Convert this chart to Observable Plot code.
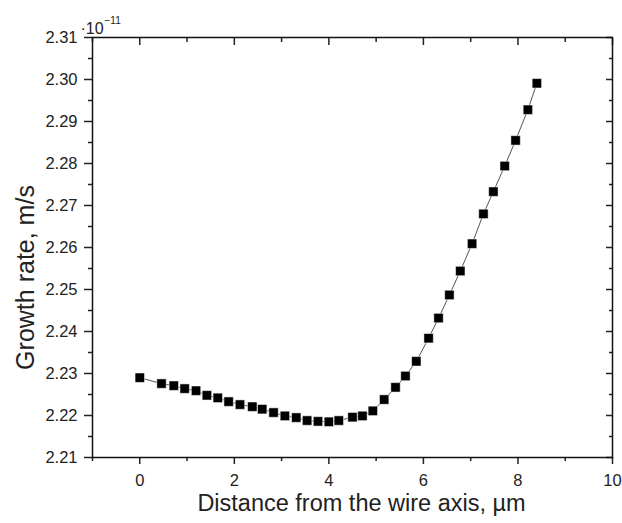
<!DOCTYPE html>
<html>
<head>
<meta charset="utf-8">
<script src="https://cdn.jsdelivr.net/npm/d3@7"></script>
<script src="https://cdn.jsdelivr.net/npm/@observablehq/plot@0.6"></script>
<style>
  html, body { margin: 0; padding: 0; background: #fff; }
  #chart svg { display: block; }
</style>
</head>
<body>
<div id="chart"></div>
<script>
// Distance from the wire axis, µm
const distance = [0, 0.46, 0.72, 0.95, 1.19, 1.42, 1.65, 1.88, 2.12, 2.38,
  2.59, 2.83, 3.07, 3.31, 3.54, 3.77, 4.00, 4.21, 4.50, 4.71,
  4.93, 5.17, 5.41, 5.62, 5.85, 6.11, 6.32, 6.55, 6.78, 7.03,
  7.27, 7.48, 7.72, 7.95, 8.21, 8.40];
// Growth rate, in units of 1e-11 m/s
const growthRate = [2.2290, 2.2276, 2.2271, 2.2264, 2.2259, 2.2248, 2.2242, 2.2233, 2.2226, 2.2221,
  2.2215, 2.2207, 2.2199, 2.2195, 2.2188, 2.2186, 2.2185, 2.2188, 2.2196, 2.2199,
  2.2211, 2.2238, 2.2267, 2.2294, 2.2329, 2.2384, 2.2432, 2.2487, 2.2544, 2.2609,
  2.2680, 2.2733, 2.2794, 2.2855, 2.2928, 2.2991];

const xMajorTicks = [0, 2, 4, 6, 8, 10];
const xMinorTicks = [-1, 1, 3, 5, 7, 9];
const yMajorTicks = [2.21, 2.22, 2.23, 2.24, 2.25, 2.26, 2.27, 2.28, 2.29, 2.30, 2.31];
const yMinorTicks = [2.215, 2.225, 2.235, 2.245, 2.255, 2.265, 2.275, 2.285, 2.295, 2.305];

const xLabel = "Distance from the wire axis, µm";
const yLabel = "Growth rate, m/s";
const multiplierBase = "·10";
const multiplierExp = "−11";

const data = distance.map((d, i) => ({x: d, y: growthRate[i]}));
const blank = () => "";

const chart = Plot.plot({
  width: 622,
  height: 523,
  marginLeft: 92,
  marginRight: 10,
  marginTop: 37,
  marginBottom: 66,
  style: {fontFamily: "'Liberation Sans', Arial, sans-serif", fontSize: "16.5px", color: "#222", background: "#fff"},
  x: {domain: [-1, 10]},
  y: {domain: [2.21, 2.31]},
  marks: [
    // bottom axis
    Plot.axisX({anchor: "bottom", ticks: xMajorTicks, tickSize: 7, tickPadding: 10, strokeWidth: 1.5, tickFormat: d3.format("d"), label: null, fill: "#222"}),
    Plot.axisX({anchor: "bottom", ticks: xMinorTicks, tickSize: 4, strokeWidth: 1.5, tickFormat: blank, label: null}),
    // top axis (inward)
    Plot.axisX({anchor: "top", ticks: xMajorTicks, tickSize: 7, dy: 7, strokeWidth: 1.5, tickFormat: blank, label: null}),
    Plot.axisX({anchor: "top", ticks: xMinorTicks, tickSize: 4, dy: 4, strokeWidth: 1.5, tickFormat: blank, label: null}),
    // left axis
    Plot.axisY({anchor: "left", ticks: yMajorTicks, tickSize: 8, tickPadding: 7, strokeWidth: 1.5, tickFormat: d3.format(".2f"), label: null, fill: "#222"}),
    Plot.axisY({anchor: "left", ticks: yMinorTicks, tickSize: 4, strokeWidth: 1.5, tickFormat: blank, label: null}),
    // right axis (inward)
    Plot.axisY({anchor: "right", ticks: yMajorTicks, tickSize: 7, dx: -7, strokeWidth: 1.5, tickFormat: blank, label: null}),
    Plot.axisY({anchor: "right", ticks: yMinorTicks, tickSize: 4, dx: -4, strokeWidth: 1.5, tickFormat: blank, label: null}),
    Plot.frame({stroke: "#111", strokeWidth: 1.5}),
    Plot.line(data, {x: "x", y: "y", stroke: "#555", strokeWidth: 1}),
    Plot.dot(data, {x: "x", y: "y", symbol: "square", r: 5.3, fill: "#000", stroke: "#fff", strokeWidth: 0.5}),
    // axis titles
    Plot.text([xLabel], {frameAnchor: "bottom", textAnchor: "middle", text: d => d, dy: 53, dx: 9, fontSize: 23.5, fill: "#222"}),
    Plot.text([yLabel], {frameAnchor: "left", textAnchor: "middle", text: d => d, dx: -67, dy: 30, rotate: -90, fontSize: 25, fill: "#222", style: "letter-spacing: 2.4px"}),
    // multiplier
    Plot.text([multiplierBase], {frameAnchor: "top-left", text: d => d, dx: -12, dy: -15, textAnchor: "start", fontSize: 16, fill: "#222"}),
    Plot.text([multiplierExp], {frameAnchor: "top-left", text: d => d, dx: 12, dy: -21, textAnchor: "start", fontSize: 10, fill: "#222"})
  ]
});
document.getElementById("chart").appendChild(chart);
</script>
</body>
</html>
